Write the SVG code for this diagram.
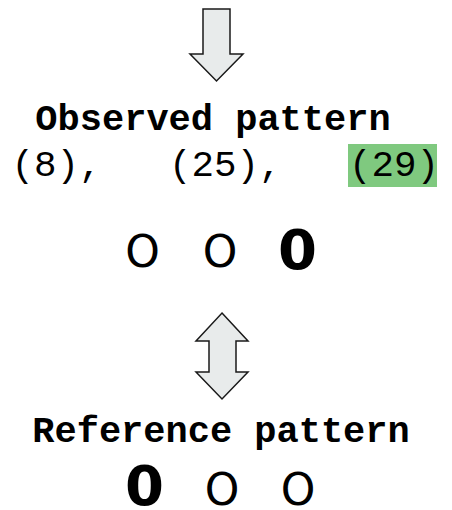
<svg xmlns="http://www.w3.org/2000/svg" width="452" height="510" viewBox="0 0 452 510">
  <style>
    .arrow { fill: #e8ebeb; stroke: #1a1a1a; stroke-width: 1.5; stroke-linejoin: miter; }
    .title { font-family: "Liberation Mono", "DejaVu Sans Mono", monospace; font-weight: bold; font-size: 37px; fill: #000; text-anchor: middle; }
    .nums { font-family: "Liberation Mono", "DejaVu Sans Mono", monospace; font-size: 37.5px; fill: #000; }
    .mark { font-family: "DejaVu Sans", sans-serif; font-size: 44px; fill: #000; text-anchor: middle; }
    .mark-strong { font-family: "DejaVu Sans", sans-serif; font-weight: bold; font-size: 56px; fill: #000; text-anchor: middle; }
  </style>

  <g id="connectors">
    <!-- downward arrow into the observed block -->
    <path class="arrow" d="M203,9 H230 V54 H243 L216.5,81 L190,54 H203 Z"/>
    <!-- two-way arrow between observed and reference -->
    <path class="arrow" d="M222,313 L248,341 H236 V372 H248 L222,399 L196,372 H209 V341 H196 Z"/>
  </g>

  <g id="observed">
    <text class="title" x="213" y="130">Observed pattern</text>
    <rect x="348" y="144" width="89" height="43" fill="#7fc97f"/>
    <text class="nums" x="11.5" y="176" xml:space="preserve">(8),   (25),   (29)</text>
  </g>

  <g id="observed-marks">
    <text class="mark" x="142.5" y="267">O</text>
    <text class="mark" x="220" y="267">O</text>
    <text class="mark-strong" x="297.5" y="269">0</text>
  </g>

  <g id="reference">
    <text class="title" x="221" y="442">Reference pattern</text>
  </g>

  <g id="reference-marks">
    <text class="mark-strong" x="144.5" y="505">0</text>
    <text class="mark" x="222" y="505">O</text>
    <text class="mark" x="298" y="505">O</text>
  </g>
</svg>
